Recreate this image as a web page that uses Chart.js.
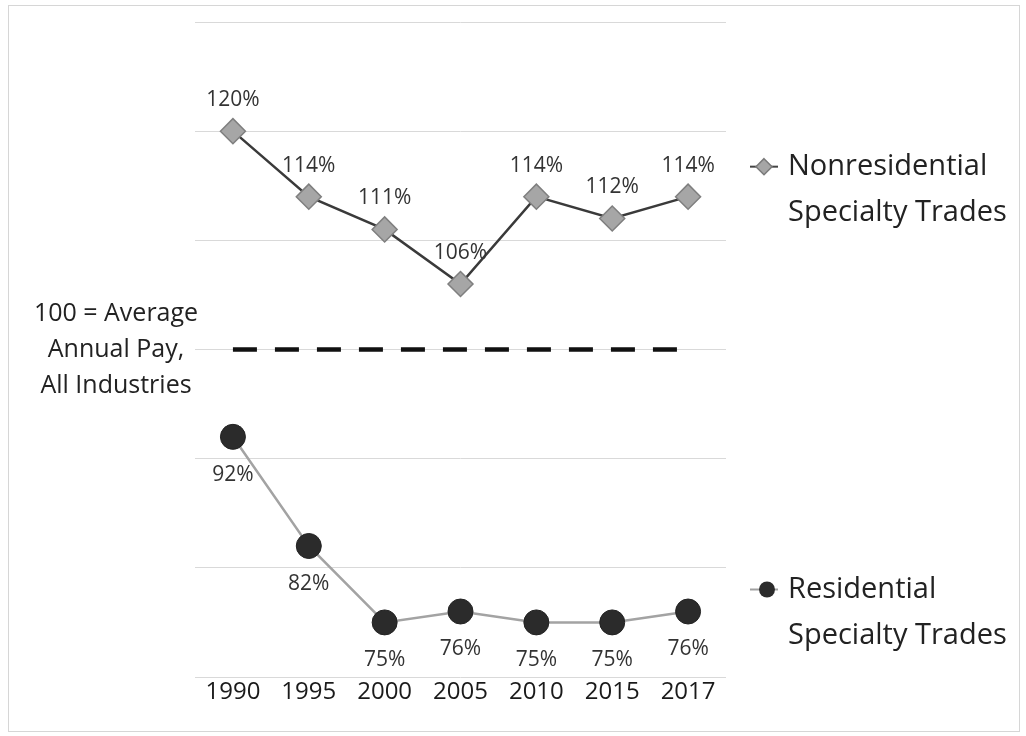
<!DOCTYPE html>
<html>
<head>
<meta charset="utf-8">
<script src="https://cdn.jsdelivr.net/npm/chart.js@4/dist/chart.umd.min.js"></script>
<style>
  html, body { margin: 0; padding: 0; background: #fff; }
  #wrap { width: 1026px; height: 736px; }
</style>
</head>
<body>
<div id="wrap"><canvas id="chart"></canvas></div>
<script>
const years = ["1990", "1995", "2000", "2005", "2010", "2015", "2017"];
const nonresidential = [120, 114, 111, 106, 114, 112, 114];
const residential = [92, 82, 75, 76, 75, 75, 76];
const averagePay = [100, 100, 100, 100, 100, 100, 100];
const yMin = 70, yMax = 130, yStep = 10;

const FONT = "'Open Sans', 'Noto Sans', sans-serif";

const extras = {
    id: "extras",
    beforeDraw(chart) {
        const c = chart.ctx;
        c.save();
        c.strokeStyle = "#d6d6d6";
        c.lineWidth = 1;
        c.strokeRect(8.5, 5.5, 1011, 726);
        c.restore();
    },
    afterDatasetsDraw(chart) {
        const c = chart.ctx;
        c.save();
        c.fillStyle = "#333";
        c.textAlign = "center";
        c.textBaseline = "middle";
        c.font = "21px " + FONT;

        // value labels
        chart.getDatasetMeta(0).data.forEach((pt, i) => {
            c.fillText(nonresidential[i] + "%", pt.x, pt.y - 31);
        });
        chart.getDatasetMeta(1).data.forEach((pt, i) => {
            c.fillText(residential[i] + "%", pt.x, pt.y + 38);
        });

        // left note for the 100 line
        const y100 = chart.scales.y.getPixelForValue(100);
        c.fillStyle = "#222";
        c.font = "25px " + FONT;
        c.fillText("100 = Average", 116, y100 - 36);
        c.fillText("Annual Pay,", 116, y100);
        c.fillText("All Industries", 116, y100 + 36);

        // legend on the right
        const lx = 764, tx = 788;
        const yN = chart.scales.y.getPixelForValue(nonresidential[nonresidential.length - 1]) - 30;
        const yR = chart.scales.y.getPixelForValue(residential[residential.length - 1]) - 22;

        c.strokeStyle = "#444";
        c.lineWidth = 2;
        c.beginPath(); c.moveTo(lx - 14, yN); c.lineTo(lx + 14, yN); c.stroke();
        c.fillStyle = "#a6a6a6";
        c.strokeStyle = "#7a7a7a";
        c.lineWidth = 1.5;
        c.beginPath();
        c.moveTo(lx, yN - 8); c.lineTo(lx + 8, yN); c.lineTo(lx, yN + 8); c.lineTo(lx - 8, yN);
        c.closePath(); c.fill(); c.stroke();

        c.strokeStyle = "#a0a0a0";
        c.lineWidth = 2;
        c.beginPath(); c.moveTo(lx - 14, yR); c.lineTo(lx + 14, yR); c.stroke();
        c.fillStyle = "#2b2b2b";
        c.beginPath(); c.arc(lx + 3, yR, 8, 0, Math.PI * 2); c.fill();

        c.fillStyle = "#222";
        c.textAlign = "left";
        c.font = "29px " + FONT;
        c.fillText("Nonresidential", tx, yN);
        c.fillText("Specialty Trades", tx, yN + 46);
        c.fillText("Residential", tx, yR);
        c.fillText("Specialty Trades", tx, yR + 46);
        c.restore();
    }
};

new Chart(document.getElementById("chart").getContext("2d"), {
    type: "line",
    data: {
        labels: years,
        datasets: [{
            label: "Nonresidential Specialty Trades",
            data: nonresidential,
            borderColor: "#3a3a3a",
            borderWidth: 2.5,
            pointStyle: "rectRot",
            pointRadius: 12.5,
            pointBackgroundColor: "#a6a6a6",
            pointBorderColor: "#7f7f7f",
            pointBorderWidth: 1.5
        }, {
            label: "Residential Specialty Trades",
            data: residential,
            borderColor: "#a3a3a3",
            borderWidth: 2.5,
            pointStyle: "circle",
            pointRadius: 12.5,
            pointBackgroundColor: "#2b2b2b",
            pointBorderColor: "#222",
            pointBorderWidth: 1
        }, {
            label: "Average Annual Pay",
            data: averagePay,
            borderColor: "#111",
            borderWidth: 4.5,
            borderDash: [24, 18],
            pointRadius: 0
        }]
    },
    options: {
        responsive: true,
        maintainAspectRatio: false,
        animation: false,
        layout: { padding: { left: 195, right: 300, top: 22, bottom: 0 } },
        scales: {
            x: {
                offset: true,
                grid: { display: false },
                border: { display: false },
                ticks: { color: "#1a1a1a", font: { family: FONT, size: 24 }, padding: -7 },
                afterFit: function (s) { s.height = 59; }
            },
            y: {
                min: yMin,
                max: yMax,
                ticks: { display: false, stepSize: yStep },
                grid: { color: "#d9d9d9", lineWidth: 1, drawTicks: false },
                border: { display: false },
                afterFit: function (s) { s.width = 0; }
            }
        },
        plugins: {
            legend: { display: false },
            tooltip: { enabled: false }
        }
    },
    plugins: [extras]
});
</script>
</body>
</html>
